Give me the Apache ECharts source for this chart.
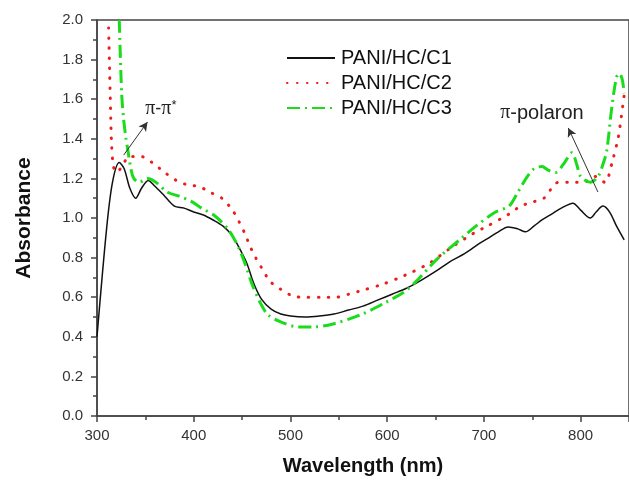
<!DOCTYPE html>
<html>
<head>
<meta charset="utf-8">
<script src="https://cdn.jsdelivr.net/npm/echarts@6/dist/echarts.min.js"></script>
<style>html,body{margin:0;padding:0;background:#fff;}#c{width:629px;height:481px;}</style>
</head>
<body>
<div id="c"></div>
<script>
const seriesNames = ['PANI/HC/C1', 'PANI/HC/C2', 'PANI/HC/C3'];

const c1Wave = [300,310,316,323,328,334,340,346,353,360,370,380,390,400,410,420,430,440,448,455,462,470,480,490,500,515,530,545,560,575,590,605,620,635,650,665,680,695,705,715,725,735,743,752,760,770,780,792,800,810,816,823,830,837,845];
const c1Abs  = [0.40,0.95,1.18,1.28,1.25,1.15,1.10,1.15,1.19,1.16,1.11,1.06,1.05,1.03,1.015,0.99,0.96,0.91,0.84,0.77,0.67,0.59,0.54,0.515,0.505,0.50,0.505,0.515,0.535,0.555,0.585,0.615,0.645,0.685,0.73,0.78,0.82,0.87,0.90,0.93,0.955,0.945,0.93,0.96,0.99,1.02,1.05,1.075,1.04,1.00,1.03,1.06,1.03,0.96,0.89];

const c2Wave = [312,313,314,315,317,320,326,333,346,357,370,382,395,405,417,429,440,447,453,458,464,470,479,490,503,515,535,547,560,571,595,618,643,666,690,702,726,738,750,762,777,791,803,815,825,833,839,842,845];
const c2Abs  = [1.96,1.75,1.55,1.38,1.26,1.23,1.26,1.31,1.31,1.28,1.23,1.19,1.165,1.16,1.13,1.10,1.04,0.98,0.92,0.86,0.80,0.75,0.68,0.64,0.605,0.60,0.60,0.60,0.615,0.63,0.665,0.71,0.77,0.85,0.925,0.955,1.02,1.06,1.08,1.10,1.18,1.18,1.18,1.21,1.18,1.29,1.41,1.51,1.62];

const c3Wave = [323,325.5,327.5,330,332,335,338,344,348,352,356,361,373,385,397,408,422,436,446,453,460,469,477,490,508,525,544,572,597,617,631,651,675,692,712,726,735,745,752,760,767,774,782,791,796,800,810,818,823,827,832,837,840,843,845];
const c3Abs  = [2.0,1.63,1.50,1.40,1.34,1.25,1.20,1.18,1.19,1.20,1.195,1.18,1.13,1.11,1.085,1.05,1.01,0.94,0.855,0.77,0.67,0.57,0.51,0.475,0.45,0.45,0.465,0.51,0.57,0.625,0.685,0.79,0.89,0.96,1.03,1.06,1.13,1.21,1.25,1.26,1.24,1.23,1.27,1.33,1.27,1.21,1.18,1.21,1.27,1.34,1.55,1.71,1.73,1.70,1.63];

// annotations (data coordinates)
const arrowPi = [[327.6, 1.318], [352.2, 1.485]];
const arrowPolaron = [[817.9, 1.131], [787.2, 1.455]];
const labelPi = [366, 1.55];
const labelPolaron = [760, 1.53];

const xTicks = [300, 400, 500, 600, 700, 800];
const yTicks = [0.0, 0.2, 0.4, 0.6, 0.8, 1.0, 1.2, 1.4, 1.6, 1.8, 2.0];

function pairs(xs, ys) { return xs.map((x, i) => [x, ys[i]]); }

const chart = echarts.init(document.getElementById('c'), null, {renderer: 'canvas'});
const axisColor = '#444';
const labelStyle = {color: '#333', fontSize: 15, fontFamily: 'Liberation Sans, Arial, sans-serif'};

chart.setOption({
  animation: false,
  backgroundColor: '#fff',
  grid: {left: 97, top: 20, bottom: 65, right: -6, show: true, borderColor: axisColor, borderWidth: 1.5, backgroundColor: 'transparent'},
  legend: {
    orient: 'vertical', left: 286, top: 48, padding: 0, itemGap: 5, itemWidth: 48, itemHeight: 14,
    data: seriesNames,
    itemStyle: {opacity: 0},
    textStyle: {fontSize: 20, color: '#111', fontFamily: 'Liberation Sans, Arial, sans-serif', lineHeight: 20, padding: [0, 0, 0, 1]}
  },
  xAxis: {
    type: 'value', min: xTicks[0], max: 850, interval: 100,
    name: 'Wavelength (nm)', nameLocation: 'middle', nameGap: 40,
    nameTextStyle: {fontSize: 20, fontWeight: 'bold', color: '#111', fontFamily: 'Liberation Sans, Arial, sans-serif'},
    axisLine: {show: true, onZero: false, lineStyle: {color: axisColor, width: 1.5}},
    axisTick: {show: true, inside: false, length: 6, lineStyle: {color: axisColor, width: 1.5}},
    minorTick: {show: true, splitNumber: 2, length: 4, lineStyle: {color: axisColor, width: 1.5}},
    axisLabel: Object.assign({margin: 12, showMaxLabel: false}, labelStyle),
    splitLine: {show: false}
  },
  yAxis: {
    type: 'value', min: yTicks[0], max: yTicks[yTicks.length - 1], interval: 0.2,
    name: 'Absorbance', nameLocation: 'middle', nameGap: 62,
    nameTextStyle: {fontSize: 21, fontWeight: 'bold', color: '#111', fontFamily: 'Liberation Sans, Arial, sans-serif'},
    axisLine: {show: true, onZero: false, lineStyle: {color: axisColor, width: 1.5}},
    axisTick: {show: true, inside: false, length: 6, lineStyle: {color: axisColor, width: 1.5}},
    minorTick: {show: true, splitNumber: 2, length: 4, lineStyle: {color: axisColor, width: 1.5}},
    axisLabel: Object.assign({margin: 14, formatter: v => v.toFixed(1)}, labelStyle),
    splitLine: {show: false}
  },
  series: [
    {
      name: seriesNames[0], type: 'line', data: pairs(c1Wave, c1Abs), symbol: 'none', smooth: 0.3, clip: true,
      lineStyle: {color: '#111', width: 1.5}, itemStyle: {color: '#111'},
      markLine: {
        silent: true, symbol: ['none', 'arrow'], symbolSize: [7, 9],
        lineStyle: {color: '#333', width: 1, type: 'solid'}, label: {show: false},
        data: [
          [{coord: arrowPi[0]}, {coord: arrowPi[1]}],
          [{coord: arrowPolaron[0]}, {coord: arrowPolaron[1]}]
        ]
      },
      markPoint: {
        silent: true, symbol: 'rect', symbolSize: 1, itemStyle: {color: 'rgba(0,0,0,0)'},
        label: {show: true, position: 'inside', color: '#222', fontSize: 18, fontFamily: 'Liberation Sans, Arial, sans-serif',
          rich: {
            p: {fontFamily: 'Liberation Serif, Times New Roman, serif', fontSize: 20, color: '#222'},
            t: {fontSize: 18, color: '#222', fontFamily: 'Liberation Sans, Arial, sans-serif'},
            u: {fontSize: 20, color: '#222', fontFamily: 'Liberation Sans, Arial, sans-serif'},
            s: {fontSize: 13, color: '#222', verticalAlign: 'top', padding: [0, 0, 8, 0]}
          }},
        data: [
          {coord: labelPi, label: {formatter: '{p|π}{t|-}{p|π}{s|*}'}},
          {coord: labelPolaron, label: {formatter: '{p|π}{u|-polaron}'}}
        ]
      }
    },
    {
      name: seriesNames[1], type: 'line', data: pairs(c2Wave, c2Abs), symbol: 'none', smooth: 0.3, clip: true,
      lineStyle: {color: '#ee1c1c', width: 3, type: [0.5, 9.5], cap: 'round'}, itemStyle: {color: '#ee1c1c'}
    },
    {
      name: seriesNames[2], type: 'line', data: pairs(c3Wave, c3Abs), symbol: 'none', smooth: 0.3, clip: true,
      lineStyle: {color: '#1bdc1b', width: 3, type: [13, 5, 2, 5]}, itemStyle: {color: '#1bdc1b'}
    }
  ]
});
</script>
</body>
</html>
